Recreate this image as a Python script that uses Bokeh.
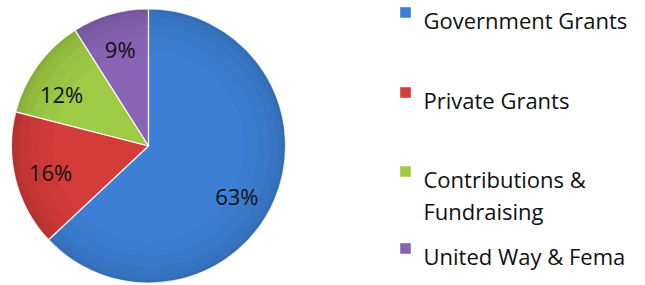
import math
from bokeh.plotting import figure
from bokeh.models import ColumnDataSource
from bokeh.core.properties import value
from bokeh.embed import file_html
from bokeh.resources import INLINE

# ---- data ----
categories = ["Government Grants", "Private Grants", "Contributions & Fundraising", "United Way & Fema"]
shares = [63, 16, 12, 9]
pct_labels = ["63%", "16%", "12%", "9%"]
legend_lines = [["Government Grants"], ["Private Grants"], ["Contributions &", "Fundraising"], ["United Way & Fema"]]

# ---- style / layout ----
colors = ["#3d7fd4", "#d43c3a", "#9fca45", "#8864b6"]
W, H = 645, 285
cx, cy, R = 148, H - 145.5, 137
label_r = 0.74
label_nudge = [-6.0, 0.5, 5.0, 0.0]   # degrees, label placement fine tuning
legend_sq_x = 405
legend_text_x = 423
legend_baselines = [12, 92, 171, 248]  # cap-middle from top of figure
line_step = 32
font = "Open Sans"

p = figure(width=W, height=H, x_range=(0, W), y_range=(0, H),
           output_backend="svg", toolbar_location=None, min_border=0)
p.axis.visible = False
p.grid.visible = False
p.outline_line_color = None
p.background_fill_color = "white"
p.border_fill_color = "white"

total = float(sum(shares))
starts, ends, mids = [], [], []
cum = 0.0
for s in shares:
    a0 = math.pi / 2 - 2 * math.pi * cum / total
    cum += s
    a1 = math.pi / 2 - 2 * math.pi * cum / total
    starts.append(a0)
    ends.append(a1)
    mids.append((a0 + a1) / 2)

src = ColumnDataSource(dict(start=starts, end=ends, color=colors))
p.wedge(x=cx, y=cy, radius=R, start_angle="start", end_angle="end", direction="clock",
        fill_color="color", line_color=None, source=src)

# subtle edge darkening (bevel look)
for r0, a in [(0.70, 0.02), (0.80, 0.02), (0.88, 0.03), (0.94, 0.03), (0.975, 0.04)]:
    p.annular_wedge(x=cx, y=cy, inner_radius=R * r0, outer_radius=R, start_angle="start",
                    end_angle="end", direction="clock", fill_color="black", fill_alpha=a,
                    line_color=None, source=src)
p.wedge(x=cx, y=cy, radius=R, start_angle="start", end_angle="end", direction="clock",
        fill_color=None, line_color="white", line_width=1.2, line_alpha=0.7, source=src)

lx = [cx + label_r * R * math.cos(m + math.radians(n)) for m, n in zip(mids, label_nudge)]
ly = [cy + label_r * R * math.sin(m + math.radians(n)) for m, n in zip(mids, label_nudge)]
p.text(x=lx, y=ly, text=pct_labels, text_align="center", text_baseline="middle",
       text_font=value(font), text_font_size="22px", text_color="#111111")

# legend
sq_y = [H - b for b in legend_baselines]
p.scatter(x=[legend_sq_x] * len(categories), y=sq_y, marker="square", size=10,
          fill_color=colors, line_color=colors, line_alpha=0.6)
tx, ty, tt = [], [], []
for b, lines in zip(legend_baselines, legend_lines):
    for i, ln in enumerate(lines):
        tx.append(legend_text_x)
        ty.append(H - (b + 7.5 + i * line_step))
        tt.append(ln)
p.text(x=tx, y=ty, text=tt, text_align="left", text_baseline="alphabetic",
       text_font=value(font), text_font_size="22px", text_color="#111111")

open("out.html", "w").write(file_html(p, INLINE))
